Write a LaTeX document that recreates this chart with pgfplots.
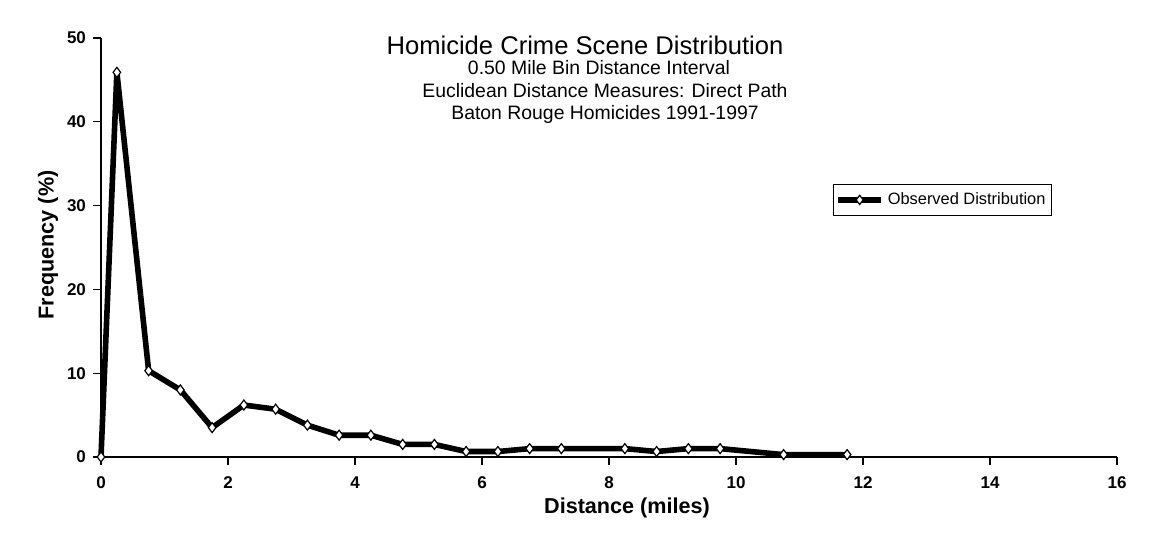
\documentclass[border=0pt]{standalone}
\usepackage{pgfplots}
\pgfplotsset{compat=1.18}
\usepackage{fontspec}
\setmainfont{Liberation Sans}

\begin{document}
\begin{tikzpicture}
    % canvas: 1 px of the reference = 0.5pt
    \useasboundingbox (0,0) rectangle (586pt,272pt);
    \begin{axis}[%
        at={(50.5pt,43.5pt)},
        anchor=origin,
        scale only axis,
        width=508pt,
        height=209.5pt,
        xmin=0, xmax=16,
        ymin=0, ymax=50,
        axis x line*=bottom,
        axis y line*=left,
        axis line style={line width=0.7pt, -},
        xtick={0,2,...,16},
        ytick={0,10,...,50},
        tick align=outside,
        major tick length=4pt,
        tick style={line width=0.6pt, black},
        /pgf/number format/assume math mode=true,
        tick label style={font=\fontsize{8.5}{10}\selectfont\bfseries},
        xticklabel style={yshift=-2.5pt},
        clip=false,
        legend style={at={(0.7205,0.6516)}, anchor=north west,
            draw=black, line width=0.5pt, inner xsep=1pt, inner ysep=2pt,
            font=\fontsize{8.2}{10}\selectfont, cells={anchor=west},
            legend image post style={line width=2.8pt}},
        legend image code/.code={%
            \draw[#1] (0cm,0cm) -- (0.75cm,0cm);
            \draw[line width=0.6pt, fill=white] plot[mark=diamond*, mark size=2.3pt] coordinates {(0.375cm,0cm)};},
        ]
        \addplot [
        color=black,
        line width=2.8pt,
        mark=diamond*,
        mark size=2.5pt,
        mark options={fill=white, line width=0.6pt, solid},
        ]
        table {
0.00 0.0
0.25 45.9
0.75 10.3
1.25 8.0
1.75 3.5
2.25 6.2
2.75 5.7
3.25 3.8
3.75 2.6
4.25 2.6
4.75 1.5
5.25 1.5
5.75 0.65
6.25 0.65
6.75 1.0
7.25 1.0
8.25 1.0
8.75 0.65
9.25 1.0
9.75 1.0
10.75 0.28
11.75 0.28
};
        \addlegendentry{Observed Distribution}
    \end{axis}
    \node[font=\fontsize{12.8}{14}\selectfont] at (292.5pt,249.5pt) {Homicide Crime Scene Distribution};
    \node[font=\fontsize{9.7}{11}\selectfont] at (299.5pt,238pt) {0.50 Mile Bin Distance Interval};
    \node[font=\fontsize{9.7}{11}\selectfont] at (302.5pt,226.5pt) {Euclidean Distance Measures: Direct Path};
    \node[font=\fontsize{9.7}{11}\selectfont] at (302.5pt,215pt) {Baton Rouge Homicides 1991-1997};
    \node[font=\fontsize{10.8}{12}\selectfont\bfseries] at (313.5pt,18pt) {Distance (miles)};
    \node[font=\fontsize{10.8}{12}\selectfont\bfseries, rotate=90] at (24pt,149.5pt) {Frequency (\%)};
\end{tikzpicture}
\end{document}
